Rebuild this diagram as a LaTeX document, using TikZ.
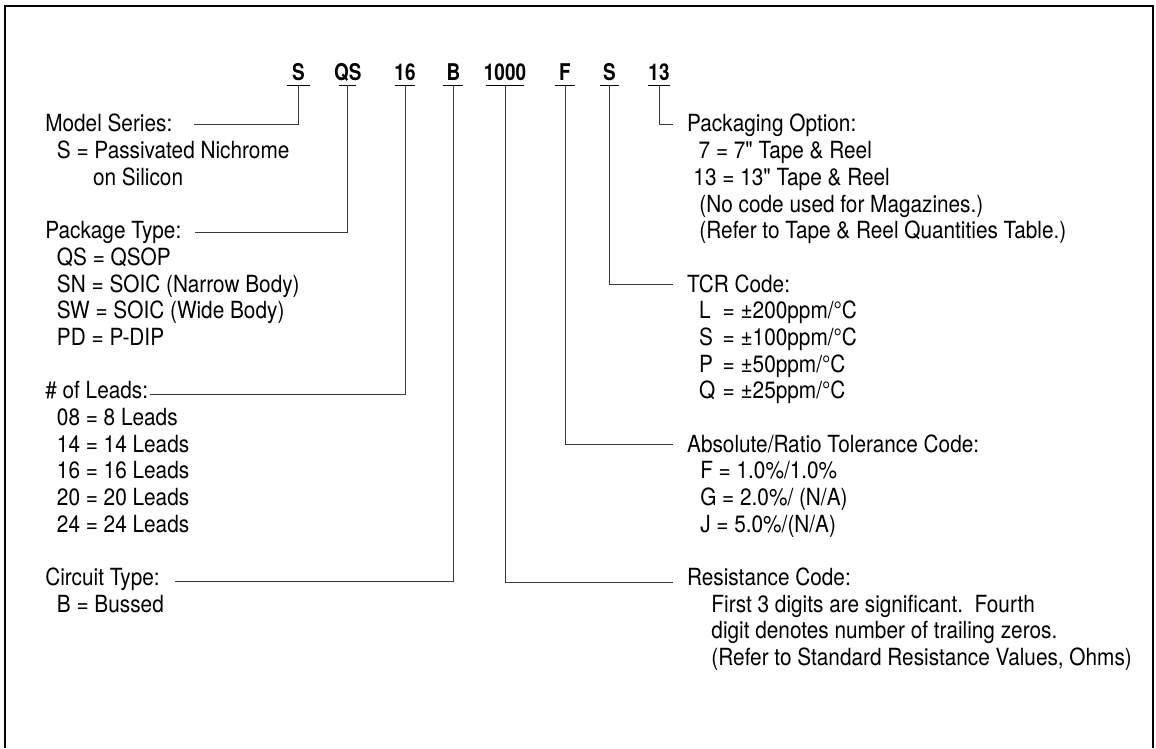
\documentclass[tikz,border=0pt]{standalone}
\usepackage{fontspec}
\setmainfont{TeX Gyre Heros}[FakeStretch=0.88, Ligatures=TeXOff]
\newfontfamily\codefont{TeX Gyre Heros}[FakeStretch=0.82]
\usepackage{tikz}
\definecolor{LineGray}{HTML}{3A3A3A}

\begin{document}
\begin{tikzpicture}[
	every node/.style={inner sep=0pt, anchor=base west, font=\fontsize{16.8}{19}\selectfont},
	code/.style={anchor=base, inner ysep=0.11cm, text depth=0pt, font=\codefont\bfseries\fontsize{16.4}{19}\selectfont},
	link/.style={line width=0.7pt, color=LineGray}]
				\useasboundingbox (0,0) rectangle (28.9,18.7);
				\draw[line width=1.4pt] (0.133,0) -- (0.133,18.55) -- (28.83,18.55) -- (28.83,0);

				% part number
				\foreach \name/\x/\w/\txt in {cSer/7.458/0.29cm/S, cPkg/8.693/0.21cm/QS, cLead/10.125/0.25cm/16, cCirc/11.333/0.25cm/B, cRes/12.625/0.47cm/1000, cTol/14.125/0.26cm/F, cTcr/15.233/0.24cm/S, cPack/16.475/0.27cm/13} {
					\node[code] (\name) at (\x,16.68) {\txt};
					\draw[line width=0.7pt] ([xshift=-\w]\name.south) -- ([xshift=\w]\name.south);
				}

				% left column
				\foreach \k/\x/\txt in {
					0/1.125/{Model Series:},
					1/1.417/{S = Passivated Nichrome},
					2/2.318/{on Silicon},
					4/1.125/{Package Type:},
					5/1.417/{QS = QSOP},
					6/1.417/{SN = SOIC (Narrow Body)},
					7/1.417/{SW = SOIC (Wide Body)},
					8/1.417/{PD = P-DIP},
					10/1.125/{\# of Leads:},
					11/1.417/{08 = 8 Leads},
					12/1.417/{14 = 14 Leads},
					13/1.417/{16 = 16 Leads},
					14/1.417/{20 = 20 Leads},
					15/1.417/{24 = 24 Leads},
					17/1.125/{Circuit Type:},
					18/1.417/{B = Bussed}%
				}{
					\node (L\k) at (\x,{15.40-0.667*\k}) {\txt};
				}

				% right column
				\foreach \k/\x/\txt in {
					0/17.17/{Packaging Option:},
					1/17.46/{7 = 7" Tape \& Reel},
					2/17.33/{13 = 13" Tape \& Reel},
					3/17.48/{(No code used for Magazines.)},
					4/17.48/{(Refer to Tape \& Reel Quantities Table.)},
					6/17.17/{TCR Code:},
					7/17.47/{\makebox[0.59cm][l]{L}= ±200ppm/°C},
					8/17.47/{\makebox[0.59cm][l]{S}= ±100ppm/°C},
					9/17.47/{\makebox[0.59cm][l]{P}= ±50ppm/°C},
					10/17.47/{\makebox[0.59cm][l]{Q}= ±25ppm/°C},
					12/17.17/{Absolute/Ratio Tolerance Code:},
					13/17.5/{F = 1.0\%/1.0\%},
					14/17.5/{G = 2.0\%/ (N/A)},
					15/17.5/{J = 5.0\%/(N/A)},
					17/17.17/{Resistance Code:},
					18/17.78/{First 3 digits are significant.\ \ Fourth},
					19/17.78/{digit denotes number of trailing zeros.},
					20/17.78/{(Refer to Standard Resistance Values, Ohms)}%
				}{
					\node (R\k) at (\x,{15.40-0.667*\k}) {\txt};
				}

				% explanations
				\foreach \c/\l/\dx/\dy in {cSer/L0/0.53cm/0.18cm, cPkg/L4/0.33cm/0.165cm, cLead/L10/0.04cm/0.11cm, cCirc/L17/0.38cm/0.11cm} {
					\draw[link] (\c.south) |- ([xshift=\dx, yshift=\dy]\l.base east);
				}
				\foreach \c/\l/\dy in {cPack/R0/0.2cm, cTcr/R6/0.18cm, cTol/R12/0.2cm, cRes/R17/0.08cm} {
					\draw[link] (\c.south) |- ([xshift=-0.34cm, yshift=\dy]\l.base west);
				}
			\end{tikzpicture}
\end{document}
